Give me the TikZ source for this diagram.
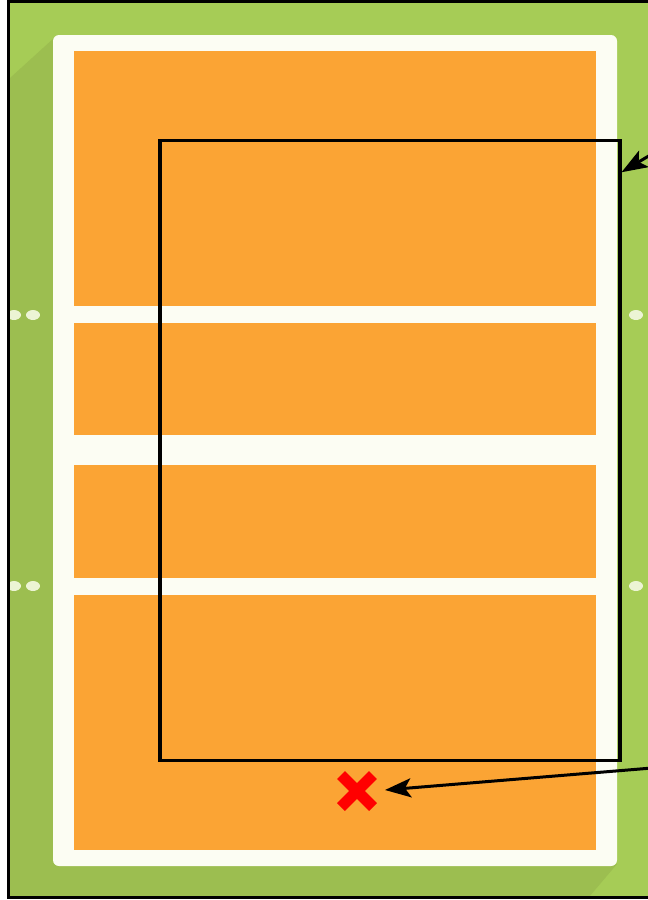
\documentclass[tikz,border=0pt]{standalone}
\usetikzlibrary{arrows.meta,calc}
\definecolor{grassA}{RGB}{166,204,86}
\definecolor{grassB}{RGB}{156,190,80}
\definecolor{lineW}{RGB}{252,253,243}
\definecolor{courtO}{RGB}{251,164,52}
\definecolor{dotC}{RGB}{236,244,212}
\definecolor{markred}{RGB}{255,0,0}
\begin{document}
\begin{tikzpicture}[x=1pt,y=-1pt,
  frameline/.style={line width=3.2pt},
  zonebox/.style={draw=black,line width=3.4pt,inner sep=0pt,outer sep=0pt},
  pointer/.style={line width=3pt,-{Stealth[length=26pt,width=19pt,inset=6pt]}},
  panel/.style={fill=courtO},
  post/.style={fill=dotC},
  crossmark/.style={minimum size=40pt,inner sep=0pt,outer sep=0pt,
    path picture={
      \draw[markred,line width=11pt]
        ([shift={(4pt,-4pt)}]path picture bounding box.north west) --
        ([shift={(-4pt,4pt)}]path picture bounding box.south east);
      \draw[markred,line width=11pt]
        ([shift={(-4pt,-4pt)}]path picture bounding box.north east) --
        ([shift={(4pt,4pt)}]path picture bounding box.south west);
    }}]
\useasboundingbox (0,0) rectangle (648,900);
\clip (0,0) rectangle (648,900);
% grass
\fill[grassA] (9,2) rectangle (680,898);
\fill[grassB] (54,38) -- (10,78) -- (10,897) -- (589,897) -- (617,864) -- (56,864) -- cycle;
% court
\fill[lineW, rounded corners=6pt] (53,35) rectangle (617,866);
\fill[panel] (74,51) rectangle (596,306);
\fill[panel] (74,323) rectangle (596,435);
\fill[panel] (74,465) rectangle (596,578);
\fill[panel] (74,595) rectangle (596,850);
% posts
\fill[post] (14,315) ellipse [x radius=7pt, y radius=5pt];
\fill[post] (33,315) ellipse [x radius=7pt, y radius=5pt];
\fill[post] (14,586) ellipse [x radius=7pt, y radius=5pt];
\fill[post] (33,586) ellipse [x radius=7pt, y radius=5pt];
\fill[post] (636,315) ellipse [x radius=7pt, y radius=5pt];
\fill[post] (636,586) ellipse [x radius=7pt, y radius=5pt];
% frame
\draw[frameline] (8.5,1.5) rectangle (680,897.5);
% zone and mark
\node[zonebox, minimum width=460pt, minimum height=620pt] (zone) at (390,450.25) {};
\node[crossmark] (mark) at (357,791) {};
\coordinate (t1) at (652,154);
\coordinate (t2) at (652,768);
\draw[pointer] (t1) -- ([xshift=1.5pt,yshift=-32pt]zone.north east);
\draw[pointer] (t2) -- ([xshift=8pt,yshift=1pt]mark.east);
\end{tikzpicture}
\end{document}
